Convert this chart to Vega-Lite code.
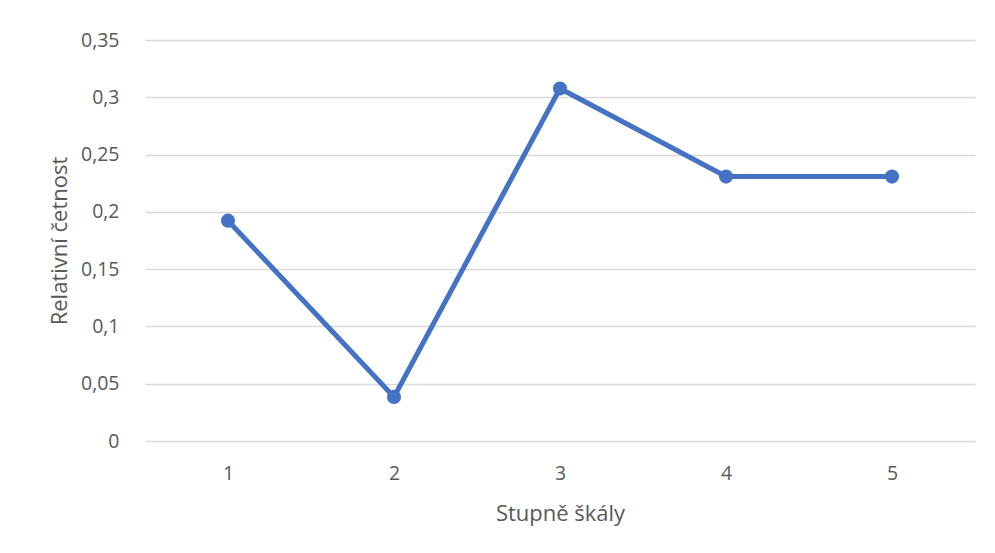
{
  "$schema": "https://vega.github.io/schema/vega-lite/v6.json",
  "width": 830,
  "height": 401,
  "autosize": {"type": "none"},
  "padding": {"left": 145, "top": 40, "right": 20, "bottom": 112},
  "background": "white",
  "config": {
    "font": "Open Sans",
    "view": {"stroke": null},
    "axis": {"labelColor": "#595959", "titleColor": "#595959", "labelFontSize": 19.5, "titleFontSize": 22, "titleFontWeight": "normal"}
  },
  "data": {"values": [
    {"stupen": "1", "cetnost": 0.1923},
    {"stupen": "2", "cetnost": 0.0385},
    {"stupen": "3", "cetnost": 0.3077},
    {"stupen": "4", "cetnost": 0.2308},
    {"stupen": "5", "cetnost": 0.2308}
  ]},
  "mark": {"type": "line", "color": "#4472C4", "strokeWidth": 5, "point": {"filled": true, "size": 200, "color": "#4472C4", "opacity": 1}},
  "encoding": {
    "x": {
      "field": "stupen", "type": "ordinal",
      "scale": {"type": "point", "padding": 0.5},
      "axis": {"title": "Stupně škály", "labelAngle": 0, "domain": false, "ticks": false, "labelPadding": 23, "titlePadding": 21}
    },
    "y": {
      "field": "cetnost", "type": "quantitative",
      "scale": {"domain": [0, 0.35], "nice": false},
      "axis": {
        "title": "Relativní četnost",
        "values": [0, 0.05, 0.1, 0.15, 0.2, 0.25, 0.3, 0.35],
        "labelExpr": "replace(format(datum.value, '.2~f'), '.', ',')",
        "domain": false, "ticks": false, "labelPadding": 26, "titlePadding": 9,
        "gridColor": "#d9d9d9", "gridWidth": 1.5
      }
    }
  }
}
